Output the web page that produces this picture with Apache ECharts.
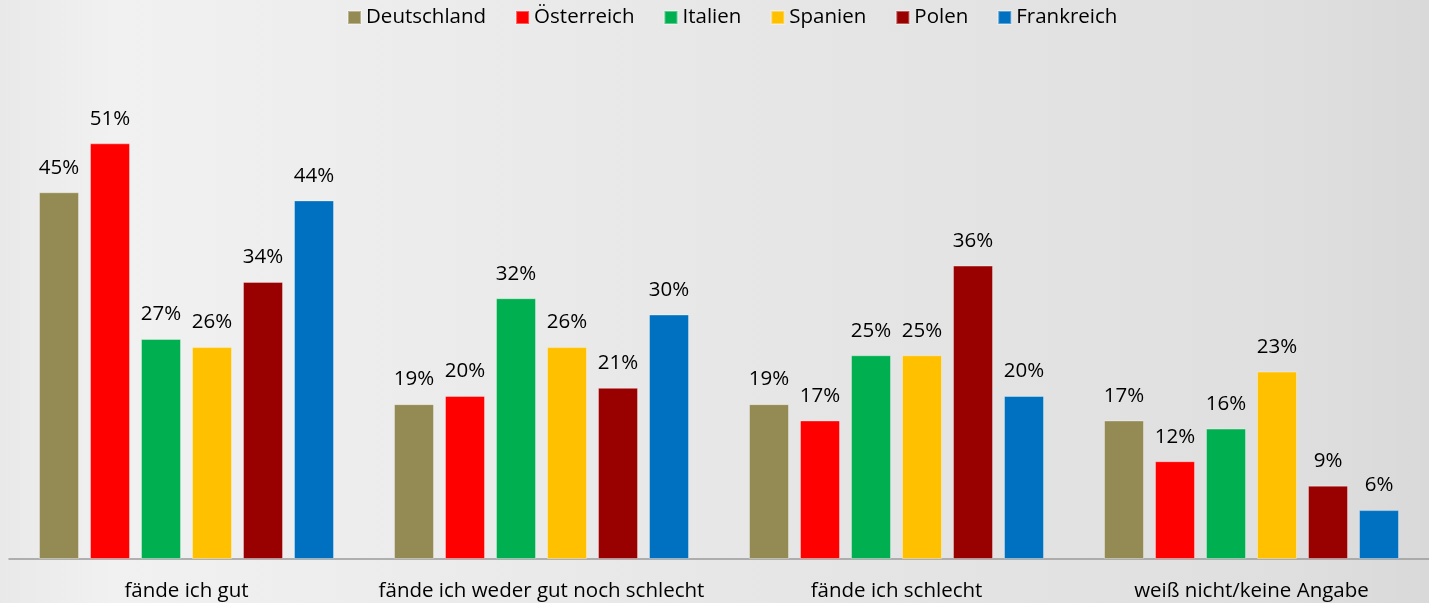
<!DOCTYPE html>
<html>
<head>
<meta charset="utf-8">
<script src="https://cdn.jsdelivr.net/npm/echarts@6/dist/echarts.min.js"></script>
<style>
  html, body { margin: 0; padding: 0; }
  #chart { width: 1429px; height: 603px; }
</style>
</head>
<body>
<div id="chart"></div>
<script>
// Daten
const categories = ['fände ich gut', 'fände ich weder gut noch schlecht', 'fände ich schlecht', 'weiß nicht/keine Angabe'];
const deutschland = [45, 19, 19, 17];
const oesterreich = [51, 20, 17, 12];
const italien = [27, 32, 25, 16];
const spanien = [26, 26, 25, 23];
const polen = [34, 21, 36, 9];
const frankreich = [44, 30, 20, 6];

const seriesDefs = [
    { name: 'Deutschland', data: deutschland, color: '#948A54' },
    { name: 'Österreich', data: oesterreich, color: '#FF0000' },
    { name: 'Italien', data: italien, color: '#00B050' },
    { name: 'Spanien', data: spanien, color: '#FFC000' },
    { name: 'Polen', data: polen, color: '#990000' },
    { name: 'Frankreich', data: frankreich, color: '#0070C0' }
];

const font = '"Open Sans", "Noto Sans", sans-serif';
const chart = echarts.init(document.getElementById('chart'));

chart.setOption({
    backgroundColor: {
        type: 'linear', x: 0, y: 0, x2: 1, y2: 0,
        colorStops: [
            { offset: 0, color: '#e9e9e9' },
            { offset: 0.08, color: '#f1f1f1' },
            { offset: 0.5, color: '#e7e7e7' },
            { offset: 0.9, color: '#e0dfdf' },
            { offset: 1, color: '#d9d9d9' }
        ]
    },
    textStyle: { fontFamily: font },
    legend: {
        top: 2,
        left: 342,
        itemWidth: 13,
        itemHeight: 13,
        itemGap: 29,
        icon: 'rect',
        textStyle: { fontSize: 20.5, color: '#000', fontFamily: font }
    },
    grid: { left: 9, right: -7, top: 70, bottom: 44 },
    xAxis: {
        type: 'category',
        data: categories,
        axisTick: { show: false },
        axisLine: { lineStyle: { color: '#9a9a9a', width: 1.5 } },
        axisLabel: { interval: 0, fontSize: 20.5, color: '#000', margin: 22, fontFamily: font }
    },
    yAxis: {
        type: 'value',
        min: 0,
        max: 60,
        show: false,
        splitLine: { show: false }
    },
    series: seriesDefs.map(s => ({
        name: s.name,
        type: 'bar',
        data: s.data,
        barWidth: 40,
        barGap: '27.5%',
        itemStyle: { color: s.color, borderColor: 'rgba(255,255,255,0.35)', borderWidth: 1 },
        label: {
            show: true,
            position: 'top',
            distance: 14,
            formatter: '{c}%',
            fontSize: 20.5,
            color: '#000',
            fontFamily: font
        }
    }))
});

window.addEventListener('resize', () => chart.resize());
</script>
</body>
</html>
